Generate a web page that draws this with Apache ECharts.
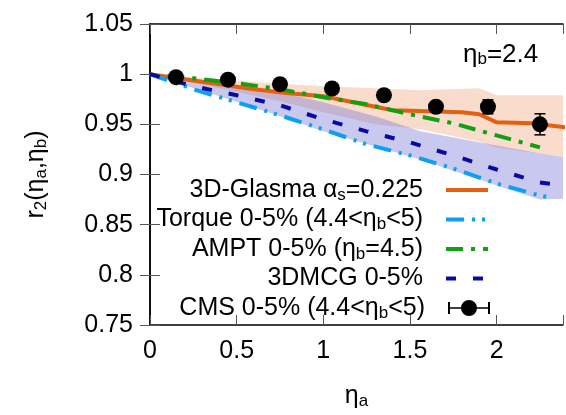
<!DOCTYPE html>
<html><head><meta charset="utf-8">
<script src="https://cdn.jsdelivr.net/npm/echarts@6/dist/echarts.min.js"></script>
<style>html,body{margin:0;padding:0;background:#fff}#c{width:566px;height:415px}</style>
</head><body><div id="c"></div>
<script>
const FONT = '"Liberation Sans", Arial, Helvetica, sans-serif';

// axis settings
const xMin = 0, xMax = 2.383, xStep = 0.5;
const yMin = 0.75, yMax = 1.05, yStep = 0.05;

// series names
const nameGlasma = '3D-Glasma αs=0.225';
const nameTorque = 'Torque 0-5% (4.4<ηb<5)';
const nameAmpt = 'AMPT 0-5% (ηb=4.5)';
const nameMcg = '3DMCG 0-5%';
const nameCms = 'CMS 0-5% (4.4<ηb<5)';

// legend labels (rich text)
const labelGlasma = '3D-Glasma α{s|s}=0.225';
const labelTorque = 'Torque 0-5% (4.4<η{s|b}<5)';
const labelAmpt = 'AMPT 0-5% (η{s|b}=4.5)';
const labelMcg = '3DMCG 0-5%';
const labelCms = 'CMS 0-5% (4.4<η{s|b}<5)';

// 3D-Glasma line
const glasmaEta = [0, 0.2, 0.4, 0.6, 0.8, 1.0, 1.2, 1.4, 1.6, 1.8, 1.9, 2.0, 2.2, 2.4];
const glasmaR   = [1.0, 0.995, 0.990, 0.985, 0.981, 0.978, 0.971, 0.964, 0.963, 0.962, 0.960, 0.952, 0.951, 0.947];
// 3D-Glasma band
const glasmaBandEta = [0, 0.4, 0.75, 1.0, 1.3, 1.56, 1.9, 2.0, 2.4];
const glasmaLow  = [1.0, 0.986, 0.973, 0.962, 0.950, 0.945, 0.933, 0.927, 0.917];
const glasmaHigh = [1.0, 0.995, 0.9905, 0.988, 0.986, 0.984, 0.986, 0.979, 0.979];

// Torque
const torqueEta = [0, 0.25, 0.5, 0.75, 1.0, 1.25, 1.5, 1.75, 2.0, 2.25, 2.31];
const torqueR   = [1.0, 0.985, 0.972, 0.959, 0.945, 0.930, 0.919, 0.906, 0.891, 0.879, 0.877];

// AMPT
const amptEta = [0.1, 0.25, 0.5, 0.75, 1.0, 1.25, 1.5, 1.75, 2.0, 2.25];
const amptR   = [0.998, 0.996, 0.991, 0.985, 0.977, 0.970, 0.960, 0.951, 0.939, 0.927];

// 3DMCG
const mcgEta = [0, 0.25, 0.5, 0.75, 1.0, 1.25, 1.5, 1.75, 2.0, 2.25, 2.4];
const mcgR   = [1.0, 0.988, 0.979, 0.969, 0.955, 0.943, 0.932, 0.919, 0.905, 0.892, 0.889];
// 3DMCG band
const mcgBandEta = [0, 0.4, 0.75, 1.0, 1.3, 1.56, 2.0, 2.16, 2.25, 2.4];
const mcgLow  = [1.0, 0.978, 0.958, 0.943, 0.928, 0.915, 0.889, 0.880, 0.875, 0.876];
const mcgHigh = [1.0, 0.990, 0.982, 0.972, 0.958, 0.943, 0.929, 0.924, 0.921, 0.917];

// CMS data
const cmsEta = [0.15, 0.45, 0.75, 1.05, 1.35, 1.65, 1.95, 2.25];
const cmsR   = [0.997, 0.9945, 0.990, 0.9857, 0.979, 0.9675, 0.9675, 0.950];
const cmsErr = [0.002, 0.002, 0.002, 0.002, 0.002, 0.004, 0.007, 0.0105];

const cOrange = '#e2600f', cTorque = '#0ca0f2', cAmpt = '#10a010', cMcg = '#0a0aa0';

function pairs(xs, ys) { return xs.map((x, i) => [x, ys[i]]); }

function band(name, etas, low, high, fill) {
  return {
    type: 'custom', name: name + ' band', silent: true, z: 1, clip: true,
    data: [[etas[0], high[0]]],
    renderItem(params, api) {
      const pts = [];
      for (let i = 0; i < etas.length; i++) pts.push(api.coord([etas[i], high[i]]));
      for (let i = etas.length - 1; i >= 0; i--) pts.push(api.coord([etas[i], low[i]]));
      return { type: 'polygon', shape: { points: pts }, style: { fill: fill } };
    }
  };
}

function line(name, xs, ys, color, type, z) {
  return {
    type: 'line', name, data: pairs(xs, ys), symbol: 'none', showSymbol: false,
    lineStyle: { color, width: 4, type, cap: 'butt' }, itemStyle: { color },
    z, clip: true, animation: false
  };
}

const rich = { s: { fontSize: 17, padding: [10, 0, 0, 0], fontFamily: FONT, color: '#000' } };
const txt = { fontFamily: FONT, fontSize: 25, color: '#000', rich };

const cmsIcon = 'path://M0,2H2V14H0Z M40,2H42V14H40Z M0,7.2H42V8.8H0Z M29,8A8,8,0,1,1,13,8A8,8,0,1,1,29,8Z';

const legendRows = [
  { name: nameGlasma, label: labelGlasma },
  { name: nameTorque, label: labelTorque },
  { name: nameAmpt, label: labelAmpt },
  { name: nameMcg, label: labelMcg },
  { name: nameCms, label: labelCms, icon: cmsIcon }
];

const chart = echarts.init(document.getElementById('c'), null, { renderer: 'canvas' });
chart.setOption({
  animation: false,
  backgroundColor: '#fff',
  title: {
    text: 'η{s|b}=2.4', left: 463, top: 41, padding: 0,
    textStyle: { fontFamily: FONT, fontSize: 26, fontWeight: 'normal', color: '#000', rich }
  },
  grid: { left: 150, right: 3, top: 24, bottom: 83 },
  xAxis: [{
    type: 'value', min: xMin, max: xMax, interval: xStep,
    name: 'η{s|a}', nameLocation: 'middle', nameGap: 58,
    nameTextStyle: txt,
    axisLine: { show: true, lineStyle: { color: '#000', width: 1.5 } },
    axisTick: { show: true, inside: true, length: 10, lineStyle: { color: '#555', width: 1 } },
    axisLabel: { margin: 14, fontFamily: FONT, fontSize: 25, color: '#000',
      formatter: v => (Math.abs(v / xStep - Math.round(v / xStep)) < 1e-6 ? String(+v.toFixed(2)) : '') },
    splitLine: { show: false }
  }, {
    type: 'value', position: 'top', min: xMin, max: xMax, interval: xStep,
    axisLine: { show: true, lineStyle: { color: '#000', width: 1.5 } },
    axisTick: { show: true, inside: true, length: 10, lineStyle: { color: '#555', width: 1 } },
    axisLabel: { show: false }, splitLine: { show: false }
  }],
  yAxis: [{
    type: 'value', min: yMin, max: yMax, interval: yStep,
    name: 'r{s|2}(η{s|a},η{s|b})', nameLocation: 'middle', nameGap: 100,
    nameTextStyle: txt,
    axisLine: { show: true, lineStyle: { color: '#000', width: 1.5 } },
    axisTick: { show: true, inside: true, length: 10, lineStyle: { color: '#555', width: 1 } },
    axisLabel: { margin: 17, fontFamily: FONT, fontSize: 25, color: '#000' },
    splitLine: { show: false }
  }, {
    type: 'value', position: 'right', min: yMin, max: yMax, interval: yStep,
    axisLine: { show: true, lineStyle: { color: '#000', width: 1.5 } },
    axisTick: { show: true, inside: true, length: 10, lineStyle: { color: '#555', width: 1 } },
    axisLabel: { show: false }, splitLine: { show: false }
  }],
  legend: legendRows.map((r, i) => ({
    data: [r.icon ? { name: r.name, icon: r.icon } : { name: r.name }],
    orient: 'vertical', align: 'right', right: 71, top: 172 + i * 29.5,
    itemWidth: 42, itemHeight: 16, selectedMode: false, padding: 5,
    formatter: () => r.label,
    textStyle: Object.assign({ lineHeight: 26, padding: [0, 18, 0, 0] }, txt),
    lineStyle: { width: 4 },
    itemStyle: r.icon ? { color: '#000', opacity: 1 } : { opacity: 0 }
  })),
  series: [
    band(nameGlasma, glasmaBandEta, glasmaLow, glasmaHigh, 'rgba(238,155,106,0.35)'),
    band(nameMcg, mcgBandEta, mcgLow, mcgHigh, 'rgba(120,120,215,0.4)'),
    line(nameGlasma, glasmaEta, glasmaR, cOrange, 'solid', 3),
    line(nameTorque, torqueEta, torqueR, cTorque, [18, 8, 3, 7, 3, 8], 3),
    line(nameAmpt, amptEta, amptR, cAmpt, [17, 8, 4, 8], 3),
    line(nameMcg, mcgEta, mcgR, cMcg, [10, 17], 3),
    {
      type: 'custom', name: nameCms + ' errors', z: 5, silent: true,
      data: cmsEta.map((x, i) => [x, cmsR[i], cmsErr[i]]),
      renderItem(params, api) {
        const x = api.value(0), y = api.value(1), e = api.value(2);
        const t = api.coord([x, y + e]), b = api.coord([x, y - e]);
        const w = 5.5, st = { stroke: '#000', lineWidth: 1.5 };
        return { type: 'group', children: [
          { type: 'line', shape: { x1: t[0], y1: t[1], x2: b[0], y2: b[1] }, style: st },
          { type: 'line', shape: { x1: t[0] - w, y1: t[1], x2: t[0] + w, y2: t[1] }, style: st },
          { type: 'line', shape: { x1: b[0] - w, y1: b[1], x2: b[0] + w, y2: b[1] }, style: st }
        ] };
      }
    },
    {
      type: 'scatter', name: nameCms, data: pairs(cmsEta, cmsR),
      symbol: 'circle', symbolSize: 16, itemStyle: { color: '#000', opacity: 1 }, z: 6
    }
  ]
});
</script></body></html>
